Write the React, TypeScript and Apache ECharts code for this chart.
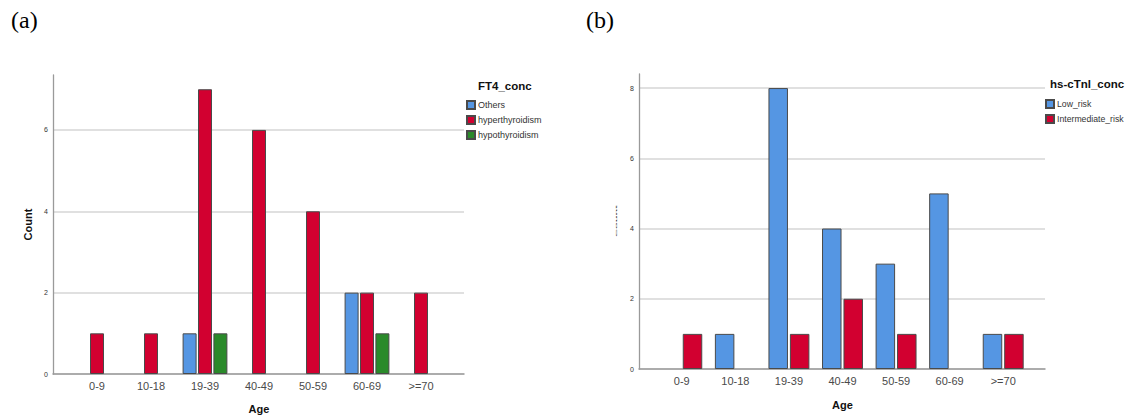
import React, { useEffect, useRef } from "react";
import * as echarts from "echarts";

const ageGroups = ["0-9", "10-18", "19-39", "40-49", "50-59", "60-69", ">=70"];
const ft4Others = [null, null, 1, null, null, 2, null];
const ft4Hyper = [1, 1, 7, 6, 4, 2, 2];
const ft4Hypo = [null, null, 1, null, null, 1, null];
const tnLow = [null, 1, 8, 4, 3, 5, 1];
const tnInter = [1, null, 1, 2, 1, null, 1];
const leftTicks = [0, 2, 4, 6];
const rightTicks = [0, 2, 4, 6, 8];

const BLUE = "#5596e3";
const RED = "#d20030";
const GREEN = "#2a8a2a";
const BORDER = "#4a4a4a";
const SANS = "Liberation Sans, Arial, sans-serif";

export default function App() {
  const ref = useRef<HTMLDivElement>(null);
  useEffect(() => {
    if (!ref.current) return;
    const chart = echarts.init(ref.current, null, { renderer: "svg" });
    const yFrame = (gi: number, max: number, ticks: number[], withName: boolean) => ({
      gridIndex: gi,
      type: "value",
      min: 0,
      max,
      name: withName ? "Count" : "",
      nameLocation: "middle",
      nameGap: 20,
      nameRotate: 90,
      nameTextStyle: { fontFamily: SANS, fontSize: 11, fontWeight: "bold", color: "#111" },
      axisLine: { show: true, onZero: false, lineStyle: { color: "#9a9a9a", width: 1.3 } },
      axisTick: { show: false, customValues: ticks },
      axisLabel: { customValues: ticks, fontFamily: SANS, fontSize: 7, color: "#333", margin: 5 },
      splitLine: { show: true, lineStyle: { color: "#d6d6d6", width: 1.5 } },
    });
    const yHidden = (gi: number, max: number) => ({
      gridIndex: gi,
      type: "value",
      min: 0,
      max,
      show: false,
      splitLine: { show: false },
    });
    const xFrame = (gi: number) => ({
      gridIndex: gi,
      type: "value",
      min: 0,
      max: 1,
      axisLine: { show: true, onZero: false, lineStyle: { color: "#9a9a9a", width: 1.5 } },
      axisTick: { show: false },
      axisLabel: { show: false },
      splitLine: { show: false },
    });
    const xCat = (gi: number, gap: number) => ({
      gridIndex: gi,
      type: "category",
      data: ageGroups,
      name: "Age",
      nameLocation: "middle",
      nameGap: gap,
      nameTextStyle: { fontFamily: SANS, fontSize: 11, fontWeight: "bold", color: "#111" },
      axisLine: { show: false },
      axisTick: { show: false },
      axisLabel: { fontFamily: SANS, fontSize: 11, color: "#4a4a4a", margin: 6 },
      splitLine: { show: false },
    });
    const barStyle = (c: string) => ({ color: c, borderColor: BORDER, borderWidth: 1 });
    const leftMax = 7.35;
    const rightMax = 8.4;
    const gridBase = { outerBoundsMode: "none", containLabel: false };
    chart.setOption({
      animation: false,
      backgroundColor: "#ffffff",
      title: [
        { text: "(a)", left: 11, top: 8, padding: 0, textStyle: { fontFamily: "Liberation Serif", fontSize: 24, fontWeight: "normal", color: "#000" } },
        { text: "(b)", left: 586, top: 8, padding: 0, textStyle: { fontFamily: "Liberation Serif", fontSize: 24, fontWeight: "normal", color: "#000" } },
        { text: "FT4_conc", left: 478, top: 80, padding: 0, textStyle: { fontFamily: SANS, fontSize: 11.5, fontWeight: "bold", color: "#111" } },
        { text: "hs-cTnl_conc", left: 1050, top: 78, padding: 0, textStyle: { fontFamily: SANS, fontSize: 11.5, fontWeight: "bold", color: "#111" } },
      ],
      legend: [
        {
          data: ["Others", "hyperthyroidism", "hypothyroidism"],
          orient: "vertical",
          left: 466,
          top: 100,
          padding: 0,
          itemWidth: 8,
          itemHeight: 8,
          itemGap: 5,
          icon: "rect",
          selectedMode: false,
          textStyle: { fontFamily: SANS, fontSize: 9, color: "#333", padding: [0, 0, 0, -2] },
        },
        {
          data: ["Low_risk", "Intermediate_risk"],
          orient: "vertical",
          left: 1045,
          top: 99,
          padding: 0,
          itemWidth: 8,
          itemHeight: 8,
          itemGap: 5,
          icon: "rect",
          selectedMode: false,
          textStyle: { fontFamily: SANS, fontSize: 8.7, color: "#333", padding: [0, 0, 0, -2] },
        },
      ],
      grid: [
        { ...gridBase, left: 53, top: 75, width: 411, height: 299 },
        { ...gridBase, left: 70, top: 75, width: 378, height: 299 },
        { ...gridBase, left: 639, top: 74, width: 406, height: 295 },
        { ...gridBase, left: 655, top: 74, width: 375, height: 295 },
      ],
      xAxis: [xFrame(0), xCat(1, 29), xFrame(2), xCat(3, 30)],
      yAxis: [yFrame(0, leftMax, leftTicks, true), yHidden(1, leftMax), yFrame(2, rightMax, rightTicks, false), yHidden(3, rightMax)],
      graphic: [
        {
          type: "text",
          x: 617,
          y: 221,
          rotation: Math.PI / 2,
          scaleY: 0.14,
          style: { text: "Count", font: "bold 11px Liberation Sans", fill: "#333", align: "center", verticalAlign: "middle" },
        },
      ],
      series: [
        { name: "Others", type: "bar", xAxisIndex: 1, yAxisIndex: 1, data: ft4Others, barWidth: 14, barGap: "10%", itemStyle: barStyle(BLUE) },
        { name: "hyperthyroidism", type: "bar", xAxisIndex: 1, yAxisIndex: 1, data: ft4Hyper, barWidth: 14, barGap: "10%", itemStyle: barStyle(RED) },
        { name: "hypothyroidism", type: "bar", xAxisIndex: 1, yAxisIndex: 1, data: ft4Hypo, barWidth: 14, barGap: "10%", itemStyle: barStyle(GREEN) },
        { name: "Low_risk", type: "bar", xAxisIndex: 3, yAxisIndex: 3, data: tnLow, barWidth: 19.5, barGap: "10%", itemStyle: barStyle(BLUE) },
        { name: "Intermediate_risk", type: "bar", xAxisIndex: 3, yAxisIndex: 3, data: tnInter, barWidth: 19.5, barGap: "10%", itemStyle: barStyle(RED) },
      ],
    });
    return () => chart.dispose();
  }, []);
  return (
    <div
      ref={ref}
      style={{ position: "fixed", left: 0, top: 0, width: 1125, height: 416, background: "#fff" }}
    />
  );
}
